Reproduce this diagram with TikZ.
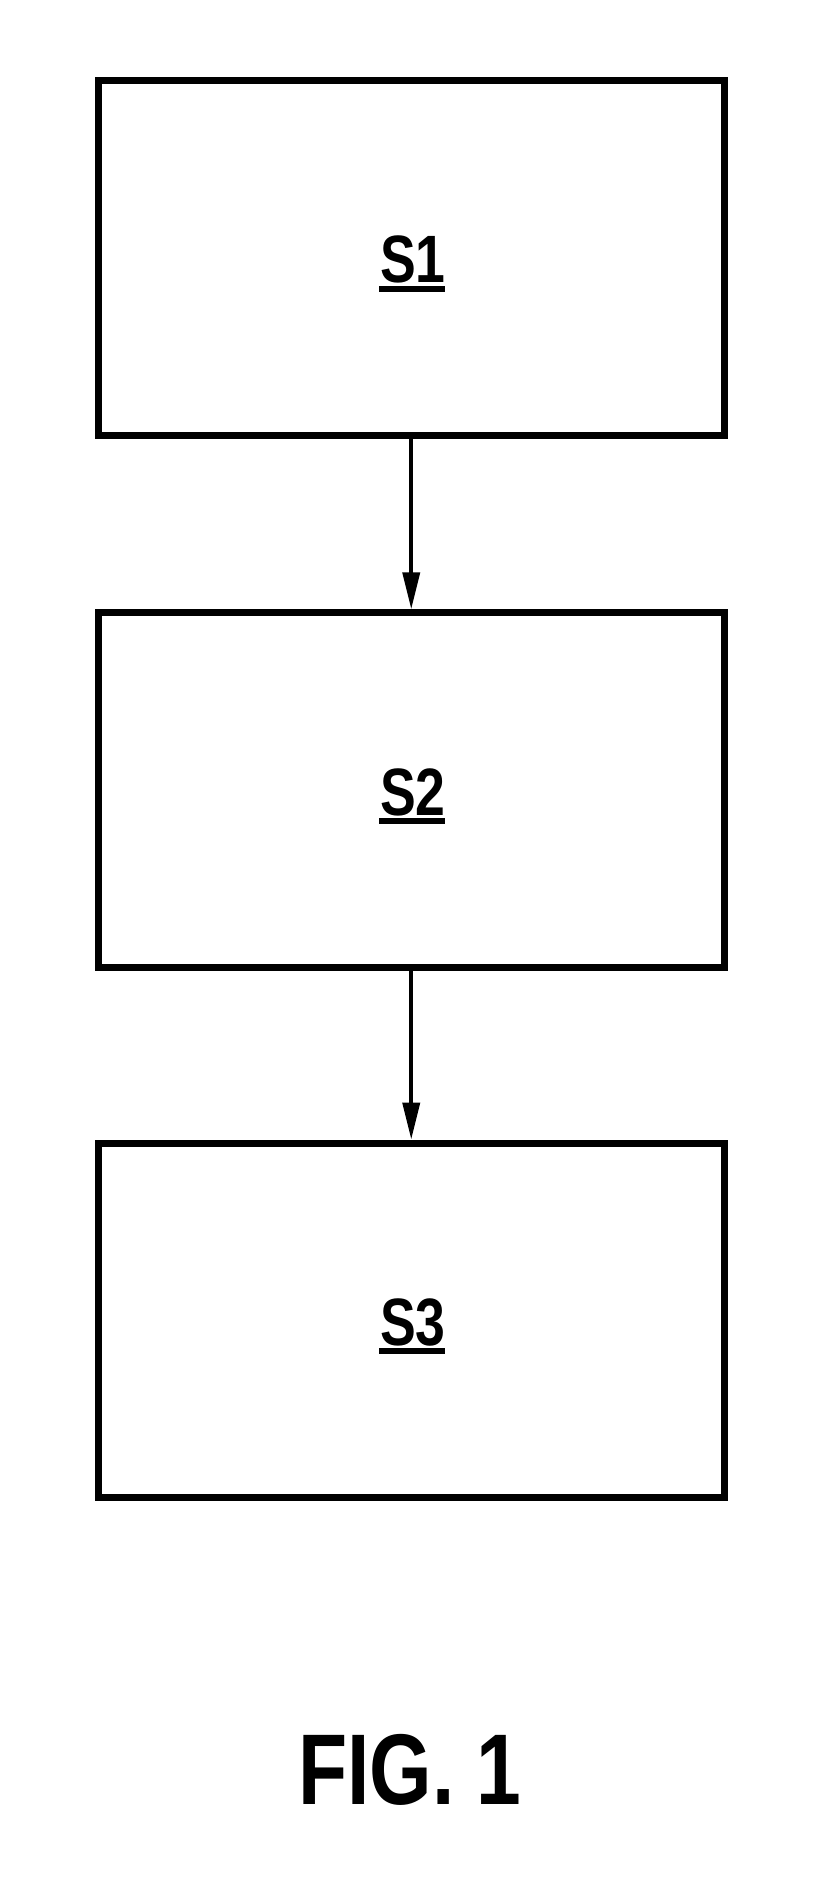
\documentclass[tikz,border=0pt]{standalone}
\usepackage{fontspec}
\setmainfont{Liberation Sans}
\usetikzlibrary{arrows.meta}
\tikzset{
  stepbox/.style={draw, line width=7pt, minimum width=625.5pt, minimum height=354.5pt, inner sep=0pt},
  flow/.style={line width=4pt, -{Triangle[width=17pt,length=37pt]}},
  lbl/.style={anchor=base, inner sep=0pt, font=\bfseries\fontsize{67}{80}\selectfont},
  uline/.style={line width=6pt}
}
\begin{document}
\begin{tikzpicture}[x=1pt,y=-1pt]
\useasboundingbox (0,0) rectangle (831,1880);
\node[stepbox] (b1) at (411.25,257.9) {};
\node[stepbox] (b2) at (411.25,790) {};
\node[stepbox] (b3) at (411.25,1320.3) {};
\draw[flow] (b1.south) -- (b2.north);
\draw[flow] (b2.south) -- (b3.north);
\node[lbl] (t1) at (413,282.7) {\scalebox{0.8}[1]{S1}};
\node[lbl] (t2) at (413,815) {\scalebox{0.8}[1]{S2}};
\node[lbl] (t3) at (413,1345) {\scalebox{0.8}[1]{S3}};
\draw[uline] ([xshift=-1pt,yshift=-6pt]t1.base west) -- ([xshift=-1pt,yshift=-6pt]t1.base east);
\draw[uline] ([xshift=-1pt,yshift=-6pt]t2.base west) -- ([xshift=-1pt,yshift=-6pt]t2.base east);
\draw[uline] ([xshift=-1pt,yshift=-6pt]t3.base west) -- ([xshift=-1pt,yshift=-6pt]t3.base east);
\node[anchor=base, inner sep=0pt, font=\bfseries\fontsize{100.5}{120}\selectfont] (fig) at (410,1804) {\scalebox{0.8}[1]{FIG. 1}};
\end{tikzpicture}
\end{document}
